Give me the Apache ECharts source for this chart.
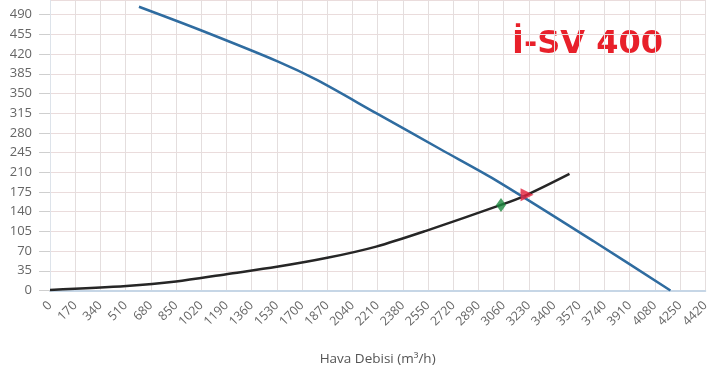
<!DOCTYPE html>
<html>
<head>
<meta charset="utf-8">
<script src="https://cdn.jsdelivr.net/npm/echarts@6/dist/echarts.min.js"></script>
<style>
html,body{margin:0;padding:0;background:#fff;}
#chart{width:712px;height:376px;}
</style>
</head>
<body>
<div id="chart"></div>
<script>
// Fan curve (blue)
var fanFlow = [600, 1000, 1535, 1800, 2200, 2640, 3000, 3670, 4185];
var fanPressure = [504, 464, 407, 374, 315, 250, 197, 87, 0];
// System curve (black)
var sysFlow = [0, 516, 850, 1190, 1530, 1870, 2200, 2536, 3042, 3218, 3504];
var sysPressure = [1, 8, 16, 29, 42, 58, 78, 106, 152, 170, 207];
// Markers
var designPoint = [3042, 152];
var workPoint = [3218, 170];
var xTicks = {min: 0, max: 4420, step: 170};
var yTicks = {min: 0, max: 516, step: 35};
var titleText = 'İ-SV 400';
var xName = 'Hava Debisi (m³/h)';

function pairs(xs, ys) { return xs.map(function (x, i) { return [x, ys[i]]; }); }

var chart = echarts.init(document.getElementById('chart'));
chart.setOption({
  animation: false,
  backgroundColor: '#ffffff',
  grid: {left: 50, right: 0, top: 0, bottom: 85.5, containLabel: false},
  xAxis: {
    type: 'value', min: xTicks.min, max: xTicks.max, interval: xTicks.step,
    name: xName, nameLocation: 'middle', nameGap: 62,
    nameTextStyle: {color: '#555', fontSize: 13.5, fontFamily: 'Open Sans'},
    axisLine: {show: true, lineStyle: {color: '#c6d6e6', width: 2}},
    axisTick: {show: false},
    axisLabel: {rotate: 45, interval: 0, margin: 13, color: '#666', fontSize: 12.5, fontFamily: 'Open Sans',
      formatter: function (v) { return String(v); }},
    splitLine: {show: true, lineStyle: {color: '#e4dede', width: 1}}
  },
  yAxis: {
    type: 'value', min: yTicks.min, max: yTicks.max, interval: yTicks.step,
    axisLine: {show: true, lineStyle: {color: '#dde3ea', width: 1}},
    axisTick: {show: true, length: 11, lineStyle: {color: '#cfcfcf'}},
    axisLabel: {margin: 18, color: '#666', fontSize: 13, fontFamily: 'Open Sans', showMaxLabel: false,
      formatter: function (v) { return String(v); }},
    splitLine: {show: true, lineStyle: {color: '#eadcdc', width: 1}}
  },
  graphic: [{
    type: 'text', left: 512, top: 29,
    style: {text: titleText, fill: '#e8202a', font: 'bold 32px "DejaVu Sans"'}
  }],
  series: [
    {type: 'line', data: pairs(fanFlow, fanPressure), smooth: 0.3, showSymbol: false,
     lineStyle: {color: '#2f6ca0', width: 2.5}, z: 3},
    {type: 'line', data: pairs(sysFlow, sysPressure), smooth: 0.3, showSymbol: false,
     lineStyle: {color: '#262626', width: 2.5}, z: 2},
    {type: 'scatter', data: [designPoint], symbol: 'diamond', symbolSize: [10, 14],
     itemStyle: {color: '#1d8a40'}, z: 5},
    {type: 'scatter', data: [workPoint], symbol: 'triangle', symbolRotate: -90, symbolSize: [13, 13],
     itemStyle: {color: '#e3203c'}, z: 5}
  ]
});
</script>
</body>
</html>
